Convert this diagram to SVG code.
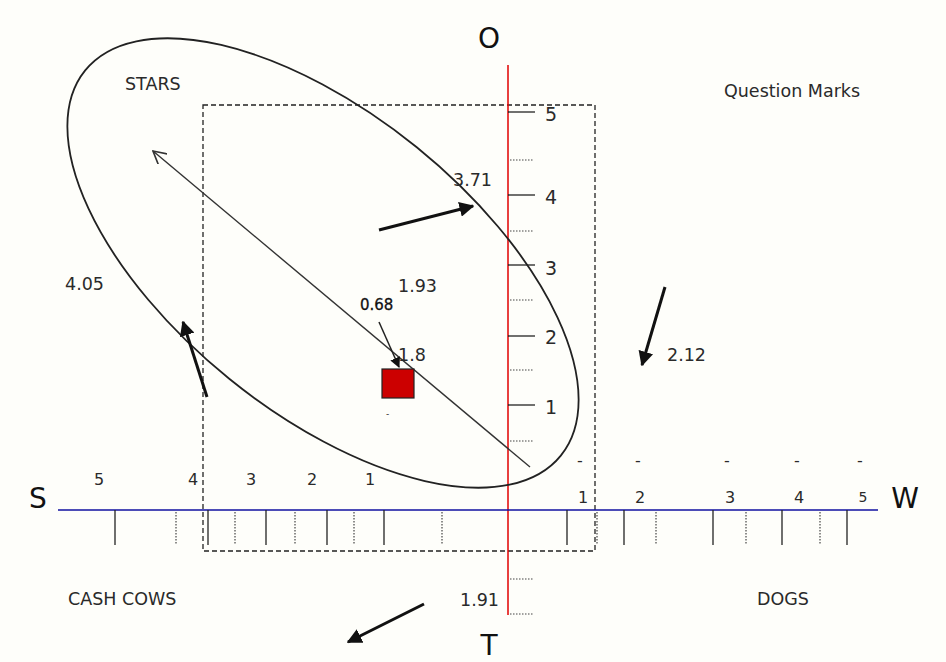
<svg xmlns="http://www.w3.org/2000/svg" width="946" height="662" viewBox="0 0 946 662">
<style>
text{font-family:"DejaVu Sans","Liberation Sans",sans-serif;fill:#2a2a2a}
.lbl{font-size:17.5px}
.ax{font-size:16px}
.big{font-size:28px;fill:#111;text-anchor:middle}
.tk{stroke:#222;stroke-width:1.3}
.dt{stroke:#444;stroke-width:1.2;stroke-dasharray:1.5,1.5}
.thick{stroke:#111;stroke-width:3;fill:none}
</style>
<defs>
<marker id="fh" viewBox="0 0 10 10" refX="9" refY="5" markerWidth="5" markerHeight="5" orient="auto" markerUnits="strokeWidth"><path d="M0,0 L10,5 L0,10 Z" fill="#111"/></marker>
<marker id="fs" viewBox="0 0 10 10" refX="9" refY="5" markerWidth="7" markerHeight="7" orient="auto" markerUnits="strokeWidth"><path d="M0,0 L10,5 L0,10 Z" fill="#111"/></marker>
<marker id="oh" viewBox="0 0 12 12" refX="11" refY="6" markerWidth="14" markerHeight="14" orient="auto" markerUnits="userSpaceOnUse"><path d="M0,0 L11,6 L0,12" fill="none" stroke="#333" stroke-width="1.4"/></marker>
</defs>
<rect width="946" height="662" fill="#fefefa"/>

<g id="frame">
<rect x="203" y="105" width="392" height="446" fill="none" stroke="#222" stroke-width="1.3" stroke-dasharray="5,3"/>
</g>

<g id="axes">
<line x1="508" y1="65" x2="508" y2="615" stroke="#e00000" stroke-width="1.5"/>
<line x1="58" y1="510" x2="878" y2="510" stroke="#1010a0" stroke-width="1.5"/>
</g>

<g id="v-ticks">
<line class="tk" x1="508" y1="112" x2="535" y2="112"/>
<line class="tk" x1="508" y1="195" x2="535" y2="195"/>
<line class="tk" x1="508" y1="265" x2="535" y2="265"/>
<line class="tk" x1="508" y1="336" x2="535" y2="336"/>
<line class="tk" x1="508" y1="405" x2="535" y2="405"/>
<line class="dt" x1="510" y1="160" x2="534" y2="160"/>
<line class="dt" x1="510" y1="231" x2="534" y2="231"/>
<line class="dt" x1="510" y1="300" x2="534" y2="300"/>
<line class="dt" x1="510" y1="370" x2="534" y2="370"/>
<line class="dt" x1="510" y1="441" x2="534" y2="441"/>
<line class="dt" x1="510" y1="579" x2="534" y2="579"/>
<line class="dt" x1="510" y1="614" x2="534" y2="614"/>
<text x="545" y="121" style="font-size:19px">5</text>
<text x="545" y="204" style="font-size:19px">4</text>
<text x="545" y="275" style="font-size:19px">3</text>
<text x="545" y="344" style="font-size:19px">2</text>
<text x="545" y="414" style="font-size:19px">1</text>
</g>

<g id="h-ticks">
<line class="tk" x1="115" y1="510" x2="115" y2="545"/>
<line class="tk" x1="208" y1="510" x2="208" y2="545"/>
<line class="tk" x1="266" y1="510" x2="266" y2="545"/>
<line class="tk" x1="327" y1="510" x2="327" y2="545"/>
<line class="tk" x1="384" y1="510" x2="384" y2="545"/>
<line class="dt" x1="176" y1="512" x2="176" y2="544"/>
<line class="dt" x1="235" y1="512" x2="235" y2="544"/>
<line class="dt" x1="295" y1="512" x2="295" y2="544"/>
<line class="dt" x1="354" y1="512" x2="354" y2="544"/>
<line class="dt" x1="442" y1="512" x2="442" y2="544"/>
<line class="tk" x1="567" y1="510" x2="567" y2="545"/>
<line class="tk" x1="624" y1="510" x2="624" y2="545"/>
<line class="tk" x1="713" y1="510" x2="713" y2="545"/>
<line class="tk" x1="782" y1="510" x2="782" y2="545"/>
<line class="tk" x1="847" y1="510" x2="847" y2="545"/>
<line class="dt" x1="597" y1="512" x2="597" y2="544"/>
<line class="dt" x1="656" y1="512" x2="656" y2="544"/>
<line class="dt" x1="746" y1="512" x2="746" y2="544"/>
<line class="dt" x1="820" y1="512" x2="820" y2="544"/>
<g class="ax" text-anchor="middle">
<text x="99" y="485">5</text>
<text x="193" y="485">4</text>
<text x="251" y="485">3</text>
<text x="312" y="485">2</text>
<text x="370" y="485">1</text>
<text x="583" y="503">1</text>
<text x="640" y="503">2</text>
<text x="730" y="503">3</text>
<text x="799" y="503">4</text>
<text x="863" y="502" style="font-size:14px">5</text>
<text x="580" y="466">-</text>
<text x="638" y="466">-</text>
<text x="727" y="466">-</text>
<text x="797" y="466">-</text>
<text x="860" y="466">-</text>
</g>
</g>

<g id="axis-letters">
<text class="big" x="38" y="508">S</text>
<text class="big" x="905" y="508">W</text>
<text class="big" x="489" y="48">O</text>
<text class="big" x="489" y="655">T</text>
</g>

<g id="quadrant-labels" class="lbl">
<text x="125" y="90">STARS</text>
<text x="724" y="97">Question Marks</text>
<text x="68" y="605">CASH COWS</text>
<text x="757" y="605">DOGS</text>
</g>

<g id="ellipse">
<ellipse cx="323" cy="263" rx="306" ry="149" transform="rotate(39 323 263)" fill="none" stroke="#222" stroke-width="1.8"/>
</g>

<g id="connectors">
<line x1="530" y1="467" x2="153" y2="151" stroke="#333" stroke-width="1.4" marker-end="url(#oh)"/>
<line class="thick" x1="379" y1="230" x2="473" y2="206" marker-end="url(#fh)"/>
<line class="thick" x1="207" y1="397" x2="183" y2="322" marker-end="url(#fh)"/>
<line class="thick" x1="665" y1="287" x2="642" y2="365" marker-end="url(#fh)"/>
<line class="thick" x1="424" y1="604" x2="348" y2="642" marker-end="url(#fh)"/>
<line x1="379" y1="322" x2="399" y2="367" stroke="#222" stroke-width="1.5" marker-end="url(#fs)"/>
</g>

<g id="position">
<rect x="382" y="369" width="32" height="29" fill="#cc0000" stroke="#222" stroke-width="1.2"/>
<text x="386" y="417" style="font-size:9px">-</text>
</g>

<g id="values" class="lbl">
<text x="65" y="290">4.05</text>
<text x="398" y="292">1.93</text>
<text x="360" y="310" style="font-size:15px;fill:#111;stroke:#111;stroke-width:0.3">0.68</text>
<text x="398" y="361">1.8</text>
<text x="667" y="361">2.12</text>
<text x="453" y="186">3.71</text>
<text x="460" y="606">1.91</text>
</g>
</svg>
